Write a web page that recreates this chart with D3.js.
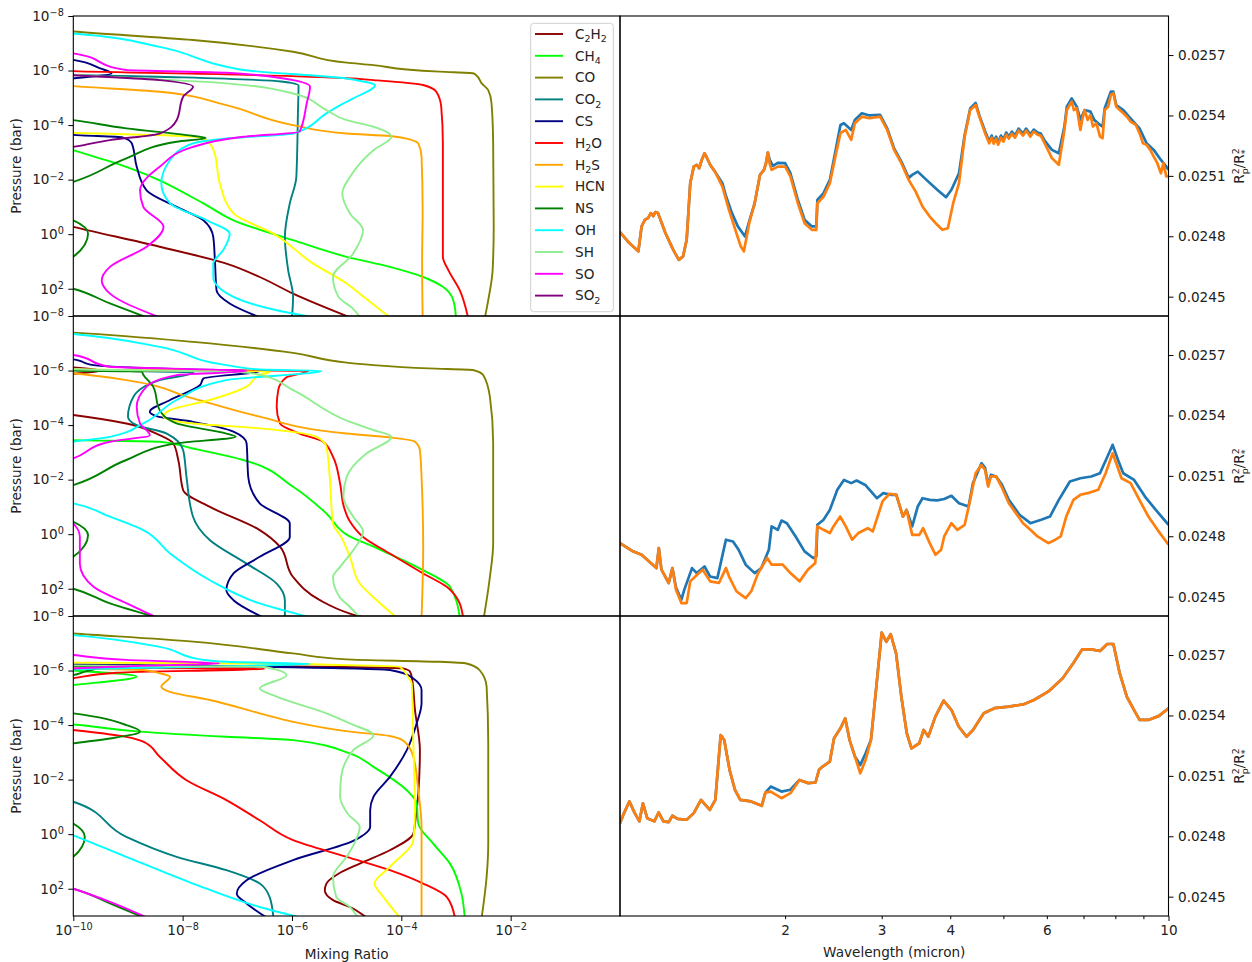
<!DOCTYPE html>
<html>
<head>
<meta charset="utf-8">
<script src="https://cdn.jsdelivr.net/npm/d3@7"></script>
<style>
  body { margin: 0; background: #fff; }
  text { font-family: "DejaVu Sans", sans-serif; }
</style>
</head>
<body>
<script>
// species in legend order
var species = ["C2H2", "CH4", "CO", "CO2", "CS", "H2O", "H2S", "HCN", "NS", "OH", "SH", "SO", "SO2"];
var speciesColors = ["darkred", "lime", "olive", "teal", "navy", "red", "orange", "yellow", "green", "cyan", "lightgreen", "magenta", "purple"];

// ticks
var presTicks = [1e-8, 1e-6, 1e-4, 1e-2, 1, 1e2];
var mixTicks = [1e-10, 1e-8, 1e-6, 1e-4, 1e-2];
var waveTicks = [2, 3, 4, 6, 10];
var waveMinor = [5, 7, 8, 9];
var depthTicks = [0.0245, 0.0248, 0.0251, 0.0254, 0.0257];

// profiles: [log10 mixing ratio, log10 pressure (bar)], one list per species
var profTop = [
  [[-12,-8],[-12,-1.3],[-10,-0.27],[-8.42,0.46],[-7.2,1.08],[-6.59,1.57],[-5.98,2.18],[-4.94,3.05]],
  [[-12,-8],[-12,-4.3],[-10,-3.08],[-9.03,-2.47],[-7.62,-1.13],[-7.07,-0.51],[-5.98,0.22],[-5,0.83],[-4.21,1.2],[-3.6,1.57],[-3.24,1.93],[-3.05,2.42],[-3.0,3.05]],
  [[-11,-7.6],[-10,-7.43],[-7.81,-7.12],[-5.98,-6.69],[-5,-6.29],[-4.51,-6.2],[-3.9,-6.04],[-3.3,-5.96],[-2.69,-5.9],[-2.63,-5.83],[-2.53,-5.53],[-2.41,-5.28],[-2.35,-4.8],[-2.32,-3.33],[-2.31,-0.27],[-2.33,1.32],[-2.41,2.42],[-2.47,3.05]],
  [[-12,-6.3],[-10,-5.85],[-8,-5.75],[-6.2,-5.6],[-5.88,-5.45],[-5.89,-4.55],[-5.92,-2.1],[-6.04,-1.13],[-6.13,0.1],[-6.07,1.32],[-5.98,2.3],[-6.0,3.05]],
  [[-12,-6.7],[-10,-6.39],[-9.51,-6.08],[-9.3,-5.9],[-10.5,-5.6],[-12,-4.5],[-10,-3.64],[-9.1,-3.55],[-8.93,-3.33],[-8.84,-2.47],[-8.66,-1.61],[-8.11,-1.0],[-7.62,-0.51],[-7.44,0.1],[-7.41,0.95],[-7.38,2.06],[-7.14,2.54],[-6.59,3.05]],
  [[-12,-6.3],[-10,-5.98],[-7,-5.85],[-5,-5.72],[-4.51,-5.65],[-3.6,-5.47],[-3.36,-5.22],[-3.27,-4.67],[-3.24,-3.33],[-3.24,0.83],[-3.14,1.32],[-2.93,2.06],[-2.78,3.05]],
  [[-12,-5.8],[-10,-5.43],[-8.42,-5.22],[-7.2,-4.73],[-5.98,-4.0],[-5,-3.69],[-4.21,-3.6],[-3.81,-3.45],[-3.69,-3.33],[-3.63,-2.84],[-3.61,-0.88],[-3.62,1.0],[-3.61,3.05]],
  [[-12,-6.6],[-10,-5.8],[-12,-5.0],[-12,-3.9],[-10,-3.72],[-7.8,-3.58],[-7.55,-3.42],[-7.42,-3.0],[-7.32,-1.86],[-7.07,-0.76],[-6.34,-0.02],[-5.61,1.08],[-5,1.81],[-4.76,2.18],[-4.21,3.05]],
  [[-12,-4.6],[-10,-4.18],[-9.03,-3.88],[-7.93,-3.63],[-7.58,-3.53],[-8.11,-3.39],[-9.03,-2.78],[-10,-1.92],[-11.5,-1.2],[-10,-0.51],[-9.73,-0.02],[-10,0.83],[-11.5,1.4],[-10,2.0],[-9.33,2.54],[-8.66,3.05]],
  [[-11,-7.5],[-10,-7.36],[-8.42,-6.87],[-7.2,-6.14],[-6.89,-6.02],[-5,-5.71],[-4.7,-5.6],[-4.48,-5.47],[-4.88,-4.98],[-5.1,-4.75],[-5.37,-4.43],[-5.98,-3.69],[-7.2,-3.51],[-7.81,-3.33],[-8.23,-2.72],[-8.39,-1.86],[-8.23,-1.13],[-7.56,-0.51],[-7.14,-0.02],[-7.26,0.59],[-7.44,1.08],[-7.44,1.57],[-7.07,2.3],[-6.28,2.79],[-5.61,3.05]],
  [[-12,-6.2],[-10,-5.85],[-7.2,-5.53],[-5.98,-5.16],[-5.37,-4.55],[-5,-4.18],[-4.51,-3.94],[-4.18,-3.57],[-4.51,-3.08],[-4.94,-2.1],[-5.08,-1.5],[-4.94,-0.76],[-4.7,-0.15],[-4.88,0.71],[-5.25,1.57],[-5.15,2.3],[-4.9,2.7],[-4.75,3.05]],
  [[-11,-6.9],[-10,-6.63],[-9.03,-6.02],[-7.2,-5.92],[-5.98,-5.65],[-5.67,-5.41],[-5.73,-4.8],[-5.86,-3.76],[-6.89,-3.57],[-7.81,-3.2],[-8.42,-2.47],[-8.78,-1.61],[-8.72,-1.0],[-8.35,-0.27],[-8.66,0.46],[-9.33,1.2],[-9.48,1.69],[-9.33,2.18],[-8.42,3.05]],
  [[-12,-6.1],[-10,-5.83],[-8.42,-5.65],[-7.81,-5.41],[-7.99,-5.04],[-8.11,-4.18],[-8.42,-3.69],[-9.33,-3.45],[-10,-3.2],[-12,-2.6]]
];

var profMid = [
  [[-12,-6.3],[-9.5,-6.0],[-12,-5.6],[-12,-4.8],[-10,-4.37],[-9.03,-4.06],[-8.42,-3.63],[-8.17,-3.33],[-8.08,-2.72],[-7.99,-1.61],[-7.5,-1.0],[-6.59,-0.15],[-6.22,0.46],[-5.98,1.57],[-5.49,2.42],[-4.94,2.91],[-4.6,3.1]],
  [[-12,-3.6],[-10,-3.45],[-8.42,-3.39],[-7.81,-3.14],[-6.89,-2.72],[-5.98,-1.74],[-5.37,-0.76],[-4.97,0.05],[-4.51,0.46],[-3.6,1.32],[-3.11,1.93],[-2.93,3.05]],
  [[-11,-7.5],[-10,-7.39],[-7.81,-7.05],[-5.98,-6.65],[-5,-6.29],[-4.51,-6.2],[-3.5,-6.08],[-2.69,-6.02],[-2.5,-5.83],[-2.38,-5.04],[-2.32,-3.33],[-2.32,0.34],[-2.38,1.57],[-2.49,3.05]],
  [[-12,-6.3],[-10,-6.02],[-7.8,-5.93],[-8.42,-5.65],[-8.9,-5.04],[-9.0,-4.31],[-8.84,-4.0],[-8.29,-3.69],[-7.99,-3.08],[-7.93,-2.1],[-7.81,-0.64],[-7.5,0.22],[-6.83,1.08],[-6.28,1.81],[-6.13,2.42],[-6.13,3.05]],
  [[-11,-6.6],[-10,-6.41],[-9.63,-6.2],[-8,-6.05],[-6.59,-5.98],[-7.62,-5.71],[-7.68,-5.47],[-8.23,-4.92],[-8.6,-4.49],[-8.48,-4.33],[-7.81,-4.12],[-7.07,-3.76],[-6.83,-3.33],[-6.8,-2.1],[-6.59,-1.13],[-6.04,-0.39],[-6.04,0.1],[-6.59,0.83],[-7.07,1.44],[-7.2,2.06],[-7.07,2.42],[-6.53,3.05]],
  [[-12,-6.3],[-10,-6.03],[-5.7,-5.99],[-6.1,-5.75],[-6.25,-5.3],[-6.28,-4.67],[-6.22,-4.06],[-5.86,-3.69],[-5.43,-3.39],[-5.25,-2.84],[-5.12,-1.86],[-5.05,-1.0],[-4.95,-0.5],[-4.7,0.1],[-4.21,0.71],[-3.6,1.44],[-3.17,1.93],[-2.96,2.42],[-2.87,3.05]],
  [[-12,-6.2],[-10,-5.9],[-9.03,-5.65],[-7.81,-4.98],[-6.59,-4.31],[-5,-3.69],[-4.21,-3.55],[-3.75,-3.39],[-3.66,-3.08],[-3.63,-2.1],[-3.6,0.5],[-3.63,3.05]],
  [[-12,-6.3],[-10,-6.05],[-6.4,-5.96],[-6.59,-5.83],[-6.83,-5.41],[-7.5,-4.92],[-8.23,-4.55],[-8.35,-4.31],[-7.81,-4.06],[-6.59,-3.88],[-5.55,-3.57],[-5.37,-3.2],[-5.31,-2.1],[-5.25,-0.39],[-5.1,0.1],[-4.94,0.83],[-4.76,1.81],[-4.45,2.42],[-4.09,3.05]],
  [[-12,-6.2],[-10,-6.0],[-8.75,-5.96],[-8.72,-5.85],[-8.54,-5.41],[-8.42,-4.55],[-8.11,-4.06],[-7.2,-3.69],[-7.03,-3.57],[-8.11,-3.33],[-9.03,-2.72],[-10,-1.8],[-11.5,-1.1],[-10,-0.45],[-9.73,0.04],[-10,0.83],[-11.5,1.4],[-10,2.0],[-9.33,2.54],[-8.48,3.05]],
  [[-11,-7.5],[-10,-7.34],[-8.42,-6.87],[-7.2,-6.2],[-6.59,-6.04],[-5.46,-5.99],[-7.2,-5.65],[-8.11,-4.92],[-8.72,-4.06],[-9.33,-3.57],[-10,-3.39],[-12,-2.6],[-12,-1.7],[-10,-1.13],[-9.33,-0.64],[-8.72,-0.15],[-8.23,0.71],[-7.5,1.69],[-6.59,2.54],[-5.67,3.05]],
  [[-12,-6.3],[-10,-6.05],[-7,-5.95],[-6.6,-5.85],[-5.98,-5.28],[-4.94,-4.12],[-4.51,-3.82],[-4.18,-3.57],[-4.64,-2.96],[-5.0,-2.1],[-5.06,-1.37],[-4.88,-0.64],[-4.7,-0.09],[-4.88,0.59],[-5.12,1.2],[-5.25,1.57],[-5.13,2.3],[-4.94,2.67],[-4.76,3.05]],
  [[-11,-6.8],[-10,-6.57],[-9.33,-6.14],[-7.2,-6.02],[-6.83,-5.98],[-8.11,-5.83],[-8.66,-5.41],[-8.84,-4.67],[-8.78,-4.06],[-8.6,-3.63],[-9.33,-3.39],[-10,-2.78],[-12,-1.8],[-12,-1.0],[-10,-0.39],[-9.88,0.1],[-9.88,1.08],[-9.63,1.93],[-9.02,2.54],[-8.48,3.05]],
  [[-12,-6.2],[-10,-6.0],[-12,-5.8]]
];

var profBot = [
  [[-12,-6.4],[-10,-6.2],[-6,-6.15],[-3.97,-6.08],[-3.84,-5.96],[-3.81,-5.77],[-3.75,-4.55],[-3.66,-3.08],[-3.69,-1.49],[-3.75,-0.39],[-3.78,-0.02],[-4.21,0.59],[-4.76,1.08],[-5.15,1.45],[-5.37,1.81],[-5.4,2.06],[-5.25,2.42],[-4.94,2.67],[-4.64,3.05]],
  [[-12,-6.2],[-10,-6.0],[-8.84,-5.78],[-10,-5.47],[-12,-5.1],[-12,-4.3],[-10,-4.02],[-8.78,-3.76],[-7.2,-3.57],[-5.98,-3.45],[-4.94,-2.96],[-4.51,-2.47],[-3.9,-1.61],[-3.72,-1.13],[-3.69,-0.39],[-3.42,0.34],[-3.11,1.08],[-2.9,2.18],[-2.84,3.05]],
  [[-11,-7.5],[-10,-7.36],[-7.81,-7.06],[-5.98,-6.63],[-5,-6.41],[-3.3,-6.32],[-2.81,-6.26],[-2.57,-6.02],[-2.44,-5.41],[-2.41,-3.33],[-2.41,0.34],[-2.44,1.57],[-2.53,3.05]],
  [[-12,-6.3],[-10,-6.12],[-12,-5.8],[-12,-2.0],[-10,-1.19],[-9.03,0.1],[-8.11,0.83],[-7.2,1.32],[-6.59,1.81],[-6.41,2.3],[-6.34,3.05]],
  [[-12,-6.4],[-10,-6.22],[-6,-6.12],[-4.21,-6.02],[-3.78,-5.71],[-3.63,-5.28],[-3.63,-4.8],[-3.72,-4.06],[-3.9,-3.08],[-4.21,-2.1],[-4.51,-1.37],[-4.57,-0.88],[-4.57,-0.27],[-4.85,0.22],[-5.98,0.95],[-6.83,1.69],[-7.01,2.18],[-6.83,2.54],[-6.47,3.05]],
  [[-12,-6.4],[-9,-6.1],[-6.5,-6.07],[-9.2,-5.92],[-10,-5.72],[-12,-5.2],[-12,-4.2],[-10,-3.82],[-9.03,-3.57],[-8.72,-3.39],[-8.42,-2.84],[-7.93,-1.98],[-7.2,-1.25],[-6.59,-0.51],[-5.98,0.22],[-5.0,0.83],[-4.21,1.32],[-3.6,1.81],[-3.17,2.3],[-3.02,3.05]],
  [[-12,-6.2],[-10,-6.08],[-8.72,-6.02],[-8.42,-5.9],[-8.23,-5.77],[-8.39,-5.41],[-8.23,-5.22],[-7.5,-4.92],[-6.59,-4.43],[-5.98,-4.12],[-4.94,-3.76],[-4.21,-3.6],[-3.94,-3.39],[-3.78,-2.84],[-3.69,-1.61],[-3.63,-0.27],[-3.63,3.05]],
  [[-12,-6.5],[-10,-6.29],[-7.5,-6.27],[-5,-6.2],[-4.03,-6.14],[-3.88,-5.77],[-3.81,-5.53],[-3.78,-3.33],[-3.75,-0.88],[-3.78,0.22],[-4.21,1.2],[-4.49,1.81],[-4.33,2.3],[-4.03,3.05]],
  [[-12,-6.3],[-10,-6.17],[-9.5,-6.14],[-9.79,-5.96],[-10,-5.83],[-12,-5.3],[-12,-4.8],[-10,-4.43],[-9.03,-4.0],[-8.78,-3.76],[-9.33,-3.51],[-10,-3.33],[-12,-2.5],[-12,-1.0],[-10,-0.39],[-9.79,0.1],[-10,0.83],[-11.5,1.4],[-10,2.0],[-9.33,2.54],[-8.72,3.05]],
  [[-11,-7.45],[-10,-7.3],[-8.42,-6.87],[-7.62,-6.39],[-7.2,-6.32],[-5.67,-6.24],[-7.5,-6.15],[-10.5,-6.0],[-12,-5.0],[-12,-1.5],[-10,0.04],[-9.03,0.83],[-7.81,1.81],[-6.59,2.67],[-5.86,3.05]],
  [[-12,-6.4],[-10,-6.19],[-6.5,-6.13],[-6.1,-5.83],[-6.59,-5.35],[-6.28,-5.04],[-5.37,-4.43],[-4.94,-4.06],[-4.51,-3.63],[-4.88,-3.08],[-5.1,-2.1],[-5.12,-1.4],[-4.98,-0.75],[-4.76,-0.27],[-4.85,0.3],[-5.0,0.83],[-5.25,1.57],[-5.19,2.3],[-4.94,2.67],[-4.8,3.05]],
  [[-11,-6.8],[-10,-6.57],[-9.03,-6.39],[-7.32,-6.26],[-9,-6.16],[-10.5,-6.0],[-12,-5.0],[-12,1.0],[-10,2.0],[-9.33,2.48],[-8.66,3.05]],
  [[-12,-6.3],[-10,-6.16],[-12,-5.9]]
];

// spectra: [wavelength (micron), Rp^2/R*^2]
var specTopBlue = [[1.0,0.02482],[1.04,0.024766],[1.08,0.024725],[1.095,0.024849],[1.11,0.024882],[1.125,0.02489],[1.138,0.024915],[1.15,0.0249],[1.16,0.02492],[1.173,0.024915],[1.19,0.02487],[1.21,0.024816],[1.23,0.024775],[1.246,0.024741],[1.26,0.024716],[1.28,0.024683],[1.303,0.0247],[1.323,0.024783],[1.343,0.025064],[1.363,0.025146],[1.38,0.025155],[1.394,0.025138],[1.41,0.02518],[1.426,0.025212],[1.44,0.02519],[1.46,0.025155],[1.49,0.025121],[1.537,0.025064],[1.56,0.025],[1.6,0.024915],[1.64,0.024849],[1.69,0.024799],[1.72,0.024874],[1.76,0.024964],[1.8,0.025105],[1.83,0.02513],[1.845,0.02516],[1.86,0.025216],[1.875,0.02518],[1.9,0.02515],[1.94,0.025165],[2.0,0.025163],[2.045,0.025113],[2.11,0.02498],[2.17,0.024882],[2.238,0.024849],[2.28,0.024849],[2.29,0.024981],[2.35,0.025014],[2.413,0.02508],[2.47,0.025221],[2.523,0.025353],[2.56,0.025361],[2.64,0.025328],[2.68,0.025378],[2.76,0.025411],[2.85,0.0254],[2.98,0.025403],[3.07,0.025336],[3.16,0.025237],[3.258,0.025171],[3.36,0.02509],[3.41,0.025105],[3.49,0.025121],[3.62,0.02508],[3.787,0.025031],[3.93,0.024994],[4.02,0.025031],[4.15,0.025113],[4.25,0.025303],[4.35,0.025435],[4.45,0.025462],[4.52,0.0254],[4.63,0.025322],[4.71,0.025272],[4.76,0.0253],[4.8,0.02527],[4.85,0.025295],[4.89,0.025265],[4.95,0.0253],[5.0,0.02528],[5.06,0.025315],[5.115,0.025295],[5.18,0.02532],[5.25,0.0253],[5.33,0.025335],[5.43,0.02531],[5.5,0.025335],[5.6,0.025305],[5.68,0.02533],[5.77,0.025315],[5.85,0.02531],[5.944,0.025275],[6.13,0.025229],[6.31,0.025212],[6.46,0.025345],[6.526,0.025444],[6.66,0.025485],[6.805,0.025444],[6.908,0.025378],[7.032,0.025427],[7.206,0.025419],[7.32,0.025378],[7.502,0.025353],[7.582,0.025345],[7.652,0.025436],[7.85,0.025518],[7.934,0.025518],[8.03,0.025452],[8.274,0.025427],[8.525,0.025386],[8.855,0.025336],[9.121,0.025262],[9.4,0.025229],[9.687,0.025179],[9.908,0.025146],[10.0,0.02513]];
var specTopOrange = [[1.0,0.02482],[1.04,0.024766],[1.08,0.024725],[1.095,0.024849],[1.11,0.024882],[1.125,0.02489],[1.138,0.024915],[1.15,0.0249],[1.16,0.02492],[1.173,0.024915],[1.19,0.02487],[1.21,0.024816],[1.23,0.024775],[1.246,0.024741],[1.26,0.024716],[1.28,0.024683],[1.303,0.0247],[1.323,0.024783],[1.343,0.025064],[1.363,0.025146],[1.38,0.025155],[1.394,0.025138],[1.41,0.02518],[1.426,0.025212],[1.44,0.02519],[1.46,0.025155],[1.49,0.025121],[1.537,0.025047],[1.58,0.024931],[1.63,0.024816],[1.66,0.02475],[1.682,0.024725],[1.7,0.02479],[1.72,0.024865],[1.76,0.024964],[1.8,0.025105],[1.83,0.02513],[1.845,0.02516],[1.86,0.025216],[1.875,0.02516],[1.89,0.02513],[1.94,0.025146],[2.0,0.025146],[2.045,0.025097],[2.11,0.024964],[2.17,0.024865],[2.238,0.024832],[2.28,0.024832],[2.29,0.024964],[2.35,0.024997],[2.413,0.025064],[2.47,0.025196],[2.523,0.025312],[2.58,0.025328],[2.64,0.025279],[2.68,0.025361],[2.76,0.025394],[2.85,0.025386],[2.98,0.025394],[3.07,0.025328],[3.16,0.025229],[3.258,0.025163],[3.36,0.02508],[3.46,0.025022],[3.56,0.024948],[3.67,0.024898],[3.787,0.024857],[3.87,0.024832],[3.96,0.02484],[4.05,0.024964],[4.15,0.025064],[4.25,0.025295],[4.35,0.025427],[4.45,0.025452],[4.52,0.025394],[4.63,0.025312],[4.71,0.025262],[4.76,0.02529],[4.8,0.02526],[4.85,0.025285],[4.89,0.025255],[4.95,0.02529],[5.0,0.02527],[5.06,0.025305],[5.115,0.025285],[5.18,0.02531],[5.25,0.02529],[5.33,0.025325],[5.43,0.0253],[5.5,0.025325],[5.6,0.025295],[5.68,0.02532],[5.77,0.025305],[5.85,0.0253],[5.944,0.025262],[6.13,0.025188],[6.31,0.025155],[6.46,0.025328],[6.526,0.025427],[6.66,0.025469],[6.724,0.025427],[6.805,0.025436],[6.908,0.025328],[6.96,0.025378],[7.032,0.025427],[7.12,0.025378],[7.206,0.025402],[7.281,0.025345],[7.389,0.025361],[7.502,0.025295],[7.582,0.025287],[7.652,0.025427],[7.765,0.025444],[7.85,0.025502],[7.934,0.02551],[8.03,0.025444],[8.149,0.025427],[8.274,0.025411],[8.396,0.025394],[8.525,0.02537],[8.72,0.025353],[8.855,0.025312],[8.984,0.025262],[9.121,0.025254],[9.261,0.025229],[9.4,0.025196],[9.541,0.025163],[9.687,0.025113],[9.788,0.025163],[9.908,0.025097],[10.0,0.025097]];

var specMidBlue = [[1.0,0.024766],[1.056,0.024725],[1.095,0.024708],[1.138,0.024667],[1.165,0.024642],[1.177,0.024741],[1.19,0.024634],[1.227,0.024568],[1.246,0.024642],[1.265,0.024545],[1.294,0.024485],[1.31,0.024535],[1.353,0.024642],[1.38,0.024617],[1.426,0.02465],[1.46,0.0246],[1.505,0.024592],[1.56,0.024783],[1.607,0.024774],[1.645,0.024733],[1.695,0.024659],[1.76,0.024617],[1.81,0.024642],[1.868,0.024733],[1.89,0.024849],[1.94,0.024832],[1.97,0.024878],[2.015,0.024865],[2.09,0.024799],[2.17,0.024725],[2.25,0.024692],[2.28,0.0247],[2.29,0.024857],[2.35,0.024882],[2.413,0.024931],[2.49,0.025031],[2.56,0.02508],[2.64,0.025064],[2.7,0.025077],[2.8,0.025055],[2.94,0.024989],[3.02,0.025014],[3.12,0.025006],[3.19,0.025006],[3.28,0.024898],[3.33,0.024931],[3.41,0.024849],[3.49,0.024948],[3.56,0.024989],[3.67,0.024981],[3.787,0.024978],[3.9,0.024985],[4.02,0.025001],[4.15,0.024964],[4.32,0.024948],[4.401,0.025064],[4.56,0.025163],[4.63,0.02514],[4.69,0.025055],[4.745,0.025105],[4.85,0.025097],[4.96,0.02506],[5.115,0.024981],[5.35,0.024907],[5.6,0.024865],[5.86,0.024882],[6.08,0.024898],[6.31,0.024981],[6.61,0.025072],[6.908,0.025088],[7.23,0.025097],[7.5,0.025113],[7.74,0.025196],[7.91,0.025254],[8.09,0.025179],[8.27,0.025113],[8.655,0.02508],[9.06,0.024997],[9.48,0.024931],[10.0,0.024857]];
var specMidOrange = [[1.0,0.024766],[1.056,0.024725],[1.095,0.024708],[1.138,0.024667],[1.165,0.024642],[1.177,0.024741],[1.19,0.024634],[1.227,0.024568],[1.246,0.024642],[1.265,0.024535],[1.294,0.024468],[1.323,0.024468],[1.343,0.024576],[1.373,0.024601],[1.415,0.024634],[1.46,0.024576],[1.515,0.024568],[1.56,0.024642],[1.58,0.024601],[1.63,0.024527],[1.695,0.024493],[1.735,0.024527],[1.786,0.024617],[1.855,0.024692],[1.89,0.024659],[1.98,0.024659],[2.045,0.024617],[2.125,0.024576],[2.2,0.024634],[2.27,0.024667],[2.29,0.024849],[2.35,0.024832],[2.413,0.024816],[2.45,0.024849],[2.52,0.024898],[2.58,0.024849],[2.65,0.024783],[2.72,0.024816],[2.83,0.02484],[2.89,0.024824],[3.01,0.024973],[3.1,0.025011],[3.19,0.025006],[3.28,0.024898],[3.33,0.024931],[3.41,0.024807],[3.513,0.024807],[3.57,0.02484],[3.67,0.024766],[3.76,0.024708],[3.85,0.024733],[3.9,0.024799],[4.02,0.024865],[4.12,0.024832],[4.25,0.024857],[4.35,0.024981],[4.45,0.025113],[4.56,0.025154],[4.63,0.02513],[4.69,0.025047],[4.745,0.025097],[4.85,0.025097],[4.96,0.025047],[5.115,0.024964],[5.27,0.024915],[5.43,0.024865],[5.6,0.024832],[5.77,0.024799],[6.04,0.024766],[6.22,0.024783],[6.36,0.024799],[6.51,0.024898],[6.71,0.024981],[6.908,0.025006],[7.12,0.025014],[7.446,0.025031],[7.68,0.025113],[7.91,0.025212],[8.03,0.025163],[8.21,0.025088],[8.53,0.025064],[8.85,0.024981],[9.19,0.024898],[9.55,0.024832],[10.0,0.024758]];

var specBotBlue = [[1.0,0.024865],[1.017,0.024915],[1.04,0.024973],[1.064,0.024915],[1.085,0.024874],[1.101,0.024964],[1.121,0.02489],[1.155,0.024874],[1.176,0.024918],[1.2,0.024874],[1.227,0.02487],[1.246,0.024902],[1.274,0.024886],[1.323,0.024882],[1.363,0.024915],[1.405,0.024981],[1.458,0.024931],[1.492,0.024981],[1.526,0.025303],[1.549,0.025278],[1.584,0.02513],[1.62,0.025031],[1.657,0.024981],[1.734,0.024973],[1.813,0.024951],[1.841,0.025017],[1.883,0.025047],[1.97,0.025022],[2.045,0.025031],[2.124,0.02508],[2.204,0.025064],[2.272,0.025067],[2.306,0.02513],[2.341,0.025146],[2.413,0.025171],[2.456,0.025287],[2.523,0.025336],[2.574,0.025386],[2.621,0.025279],[2.681,0.025196],[2.742,0.025154],[2.804,0.025212],[2.868,0.025279],[2.933,0.025543],[3.0,0.025811],[3.059,0.025766],[3.115,0.025804],[3.187,0.025708],[3.258,0.025493],[3.333,0.025312],[3.399,0.025237],[3.513,0.025262],[3.578,0.025328],[3.648,0.025295],[3.758,0.025394],[3.89,0.025474],[4.022,0.025427],[4.144,0.025345],[4.284,0.025295],[4.401,0.025328],[4.604,0.025411],[4.816,0.025436],[5.115,0.025444],[5.433,0.025455],[5.684,0.025477],[6.033,0.025518],[6.408,0.025584],[6.704,0.025659],[6.958,0.025728],[7.228,0.025728],[7.502,0.02572],[7.732,0.025755],[7.934,0.025755],[8.149,0.025609],[8.396,0.025493],[8.655,0.025427],[8.855,0.025378],[9.192,0.025378],[9.612,0.025398],[10.0,0.025436]];
var specBotOrange = [[1.0,0.024865],[1.017,0.024915],[1.04,0.024973],[1.064,0.024915],[1.085,0.024874],[1.101,0.024964],[1.121,0.02489],[1.155,0.024874],[1.176,0.024918],[1.2,0.024874],[1.227,0.02487],[1.246,0.024902],[1.274,0.024886],[1.323,0.024882],[1.363,0.024915],[1.405,0.024981],[1.458,0.024931],[1.492,0.024981],[1.526,0.025303],[1.549,0.025278],[1.584,0.02513],[1.62,0.025031],[1.657,0.024981],[1.734,0.024973],[1.813,0.024951],[1.841,0.025017],[1.883,0.025022],[1.97,0.024989],[2.045,0.025014],[2.124,0.02508],[2.204,0.025064],[2.272,0.025067],[2.306,0.02513],[2.341,0.025146],[2.413,0.025171],[2.456,0.025287],[2.523,0.025336],[2.574,0.025386],[2.621,0.025279],[2.681,0.025196],[2.742,0.025113],[2.804,0.025179],[2.868,0.025279],[2.933,0.025543],[3.0,0.025811],[3.059,0.025766],[3.115,0.025804],[3.187,0.025708],[3.258,0.025493],[3.333,0.025312],[3.399,0.025237],[3.513,0.025262],[3.578,0.025328],[3.648,0.025295],[3.758,0.025394],[3.89,0.025474],[4.022,0.025427],[4.144,0.025345],[4.284,0.025295],[4.401,0.025328],[4.604,0.025411],[4.816,0.025436],[5.115,0.025444],[5.433,0.025455],[5.684,0.025477],[6.033,0.025518],[6.408,0.025584],[6.704,0.025659],[6.958,0.025728],[7.228,0.025728],[7.502,0.02572],[7.732,0.025755],[7.934,0.025755],[8.149,0.025609],[8.396,0.025493],[8.655,0.025427],[8.855,0.025378],[9.192,0.025378],[9.612,0.025398],[10.0,0.025436]];

// Layout
var svgWidth = 1252, svgHeight = 962;
var leftX0 = 73.3, midX = 620, rightX1 = 1168.5;
var rowTop = [16, 316, 616], rowH = 300;
var fontSize = 13.6;

var svg = d3.select("body").append("svg")
  .attr("width", svgWidth)
  .attr("height", svgHeight);
var defs = svg.append("defs");

var xMix = d3.scaleLog().domain([1e-10, 1]).range([leftX0, midX]);
var xWave = d3.scaleLog().domain([1, 10]).range([midX, rightX1]);

var rowsProf = [profTop, profMid, profBot];
var rowsSpec = [[specTopBlue, specTopOrange], [specMidBlue, specMidOrange], [specBotBlue, specBotOrange]];

// 10^n tick labels with a raised exponent
function powLabel(sel) {
  sel.each(function(d) {
    var e = Math.round(Math.log10(d));
    var t = d3.select(this).text("");
    t.append("tspan").text("10");
    t.append("tspan").attr("dy", "-0.5em").attr("font-size", "9.7px")
      .text(String(e).replace("-", "\u2212"));
  });
}

function styleAxis(g) {
  g.select(".domain").remove();
  g.selectAll(".tick line").attr("stroke", "#000").attr("stroke-width", 1);
  g.selectAll(".tick text").attr("fill", "#222").attr("font-size", fontSize)
    .attr("font-family", "DejaVu Sans");
}

rowTop.forEach(function(top, i) {
  var yP = d3.scaleLog().domain([1e-8, 1e3]).range([top, top + rowH]);
  var yR = d3.scaleLinear().domain([0.024404, 0.025894]).range([top + rowH, top]);

  defs.append("clipPath").attr("id", "clipL" + i).append("rect")
    .attr("x", leftX0).attr("y", top).attr("width", midX - leftX0).attr("height", rowH);
  defs.append("clipPath").attr("id", "clipR" + i).append("rect")
    .attr("x", midX).attr("y", top).attr("width", rightX1 - midX).attr("height", rowH);

  // mixing ratio profiles
  var profLine = d3.line()
    .x(function(d) { return xMix(Math.pow(10, d[0])); })
    .y(function(d) { return yP(Math.pow(10, d[1])); })
    .curve(d3.curveMonotoneY);

  var gL = svg.append("g").attr("clip-path", "url(#clipL" + i + ")");
  rowsProf[i].forEach(function(p, k) {
    gL.append("path")
      .attr("d", profLine(p))
      .attr("fill", "none")
      .attr("stroke", speciesColors[k])
      .attr("stroke-width", 1.9);
  });

  // spectra
  var specLine = d3.line()
    .x(function(d) { return xWave(d[0]); })
    .y(function(d) { return yR(d[1]); });

  var gR = svg.append("g").attr("clip-path", "url(#clipR" + i + ")");
  ["#1f77b4", "#ff7f0e"].forEach(function(c, k) {
    gR.append("path")
      .attr("d", specLine(rowsSpec[i][k]))
      .attr("fill", "none")
      .attr("stroke", c)
      .attr("stroke-width", 2.7)
      .attr("stroke-linejoin", "round");
  });

  // left axis
  var gy = svg.append("g")
    .attr("transform", "translate(" + leftX0 + ",0)")
    .call(d3.axisLeft(yP).tickValues(presTicks).tickSize(5).tickPadding(4.5));
  styleAxis(gy);
  gy.selectAll(".tick text").call(powLabel);

  // right axis
  var gr = svg.append("g")
    .attr("transform", "translate(" + rightX1 + ",0)")
    .call(d3.axisRight(yR).tickValues(depthTicks).tickFormat(d3.format(".4f")).tickSize(5).tickPadding(4.5));
  styleAxis(gr);

  // frames
  [[leftX0, midX], [midX, rightX1]].forEach(function(r) {
    svg.append("rect")
      .attr("x", r[0]).attr("y", top)
      .attr("width", r[1] - r[0]).attr("height", rowH)
      .attr("fill", "none").attr("stroke", "#000").attr("stroke-width", 1.1);
  });

  // axis titles
  svg.append("text")
    .attr("transform", "translate(21," + (top + rowH / 2) + ") rotate(-90)")
    .attr("text-anchor", "middle")
    .attr("font-size", fontSize)
    .attr("fill", "#222")
    .text("Pressure (bar)");

  var rl = svg.append("text")
    .attr("transform", "translate(1244," + (top + rowH / 2) + ") rotate(-90)")
    .attr("text-anchor", "middle")
    .attr("font-size", fontSize)
    .attr("fill", "#222");
  rl.append("tspan").text("R");
  rl.append("tspan").attr("font-size", "9.5px").attr("dy", -5).text("2");
  rl.append("tspan").attr("font-size", "9.5px").attr("dx", -6).attr("dy", 9).text("p");
  rl.append("tspan").attr("dy", -4).text("/R");
  rl.append("tspan").attr("font-size", "9.5px").attr("dy", -5).text("2");
  rl.append("tspan").attr("font-size", "9.5px").attr("dx", -6).attr("dy", 9).text("*");
});

// bottom axes
var bottom = rowTop[2] + rowH;
var gxL = svg.append("g")
  .attr("transform", "translate(0," + bottom + ")")
  .call(d3.axisBottom(xMix).tickValues(mixTicks).tickSize(5).tickPadding(4.5));
styleAxis(gxL);
gxL.selectAll(".tick text").call(powLabel);

var gxR = svg.append("g")
  .attr("transform", "translate(0," + bottom + ")")
  .call(d3.axisBottom(xWave).tickValues(waveTicks).tickFormat(d3.format("d")).tickSize(3.2).tickPadding(6.3));
styleAxis(gxR);
gxR.selectAll(".tick line").attr("y2", function(d) { return d === 10 ? 5 : 3.2; });

var gxM = svg.append("g")
  .attr("transform", "translate(0," + bottom + ")")
  .call(d3.axisBottom(xWave).tickValues(waveMinor).tickFormat("").tickSize(3.2));
styleAxis(gxM);

svg.append("text")
  .attr("x", (leftX0 + midX) / 2).attr("y", 959)
  .attr("text-anchor", "middle").attr("font-size", fontSize).attr("fill", "#222")
  .text("Mixing Ratio");
svg.append("text")
  .attr("x", (midX + rightX1) / 2).attr("y", 957)
  .attr("text-anchor", "middle").attr("font-size", fontSize).attr("fill", "#222")
  .text("Wavelength (micron)");

// legend
var legend = svg.append("g");
legend.append("rect")
  .attr("x", 530.7).attr("y", 23.3).attr("width", 82.6).attr("height", 288.4)
  .attr("rx", 3).attr("fill", "#fff").attr("fill-opacity", 0.8)
  .attr("stroke", "#d0d0d0").attr("stroke-width", 1);

species.forEach(function(s, k) {
  var y = 34 + 21.8 * k;
  legend.append("line")
    .attr("x1", 535).attr("x2", 563).attr("y1", y).attr("y2", y)
    .attr("stroke", speciesColors[k]).attr("stroke-width", 1.9);
  var t = legend.append("text")
    .attr("x", 575).attr("y", y + 4.7)
    .attr("font-size", fontSize).attr("fill", "#222");
  var shifted = false;
  s.split(/(\d)/).filter(function(p) { return p !== ""; }).forEach(function(p) {
    var isSub = /\d/.test(p);
    var ts = t.append("tspan").text(p);
    if (isSub && !shifted) { ts.attr("dy", 3.5).attr("font-size", "9.5px"); shifted = true; }
    else if (isSub) { ts.attr("font-size", "9.5px"); }
    else if (shifted) { ts.attr("dy", -3.5); shifted = false; }
  });
});
</script>
</body>
</html>
